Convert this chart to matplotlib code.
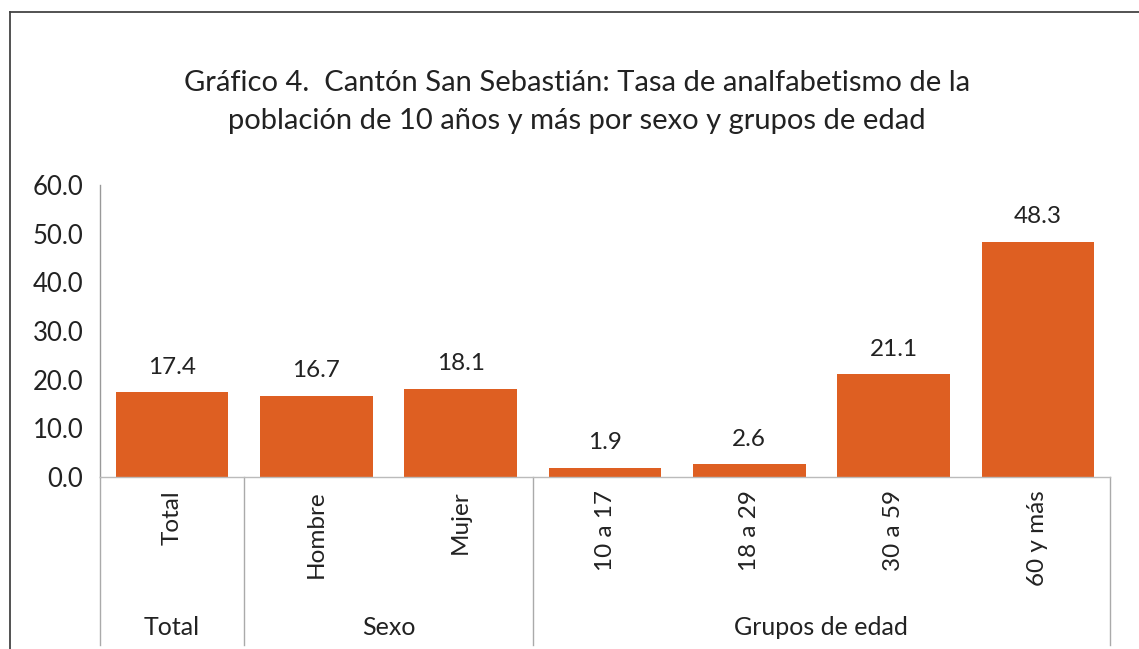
import matplotlib
matplotlib.use("Agg")
import matplotlib.pyplot as plt
import matplotlib.transforms as mtransforms
from matplotlib.lines import Line2D

categories = ["Total", "Hombre", "Mujer", "10 a 17", "18 a 29", "30 a 59", "60 y más"]
values = [17.4, 16.7, 18.1, 1.9, 2.6, 21.1, 48.3]
groups = ["Total", "Sexo", "Grupos de edad"]
group_sizes = [1, 2, 4]
yticks = [0, 10, 20, 30, 40, 50, 60]
title = "Gráfico 4.  Cantón San Sebastián: Tasa de analfabetismo de la\npoblación de 10 años y más por sexo y grupos de edad"

plt.rcParams['font.family'] = ['Lato', 'DejaVu Sans']

fig = plt.figure(figsize=(11.39, 6.49), dpi=100)
ax = fig.add_axes([100/1139, 1-477/649, 1010/1139, 292/649])

x = list(range(len(categories)))
bar_color = "#DE5F22"
ax.bar(x, values, width=0.78, color=bar_color)
for xi, v in zip(x, values):
    ax.text(xi, v + 3.0, f"{v:.1f}", ha="center", va="bottom", fontsize=17.5, color="#222222")

ax.set_xlim(-0.5, len(categories) - 0.5)
ax.set_ylim(0, 60)
ax.set_yticks(yticks)
ax.set_yticklabels([f"{t:.1f}" for t in yticks], fontsize=18.5, color="#222222")
ax.tick_params(axis="y", length=0, pad=12)
ax.set_xticks([])
for s in ["top", "right"]:
    ax.spines[s].set_visible(False)
ax.spines["left"].set_color("#999999")
ax.spines["bottom"].set_color("#BBBBBB")
ax.spines["left"].set_linewidth(1.0)
ax.spines["bottom"].set_linewidth(1.0)

trans = mtransforms.blended_transform_factory(ax.transData, ax.transAxes)
# category labels
for xi, c in zip(x, categories):
    ax.text(xi, -0.045, c, rotation=90, ha="center", va="top", fontsize=17.5,
            color="#222222", transform=trans)

# group separators and labels
bounds = [-0.5]
for g in group_sizes:
    bounds.append(bounds[-1] + g)
for b in bounds:
    ax.add_line(Line2D([b, b], [0, -0.575], transform=trans, color="#AAAAAA",
                       linewidth=1.0, clip_on=False))
for i, g in enumerate(groups):
    mid = (bounds[i] + bounds[i + 1]) / 2
    ax.text(mid, -0.517, g, ha="center", va="center", fontsize=18,
            color="#222222", transform=trans)

fig.text(577/1139, 1-102/649, title, ha="center", va="center", fontsize=21,
         color="#222222", linespacing=1.6)

# outer frame
fig.add_artist(Line2D([10/1139, 1.0], [1-12/649, 1-12/649], transform=fig.transFigure,
                      color="#444444", linewidth=1.3))
fig.add_artist(Line2D([10/1139, 10/1139], [1-12/649, 0], transform=fig.transFigure,
                      color="#444444", linewidth=1.3))

fig.savefig("out.png", dpi=100)
